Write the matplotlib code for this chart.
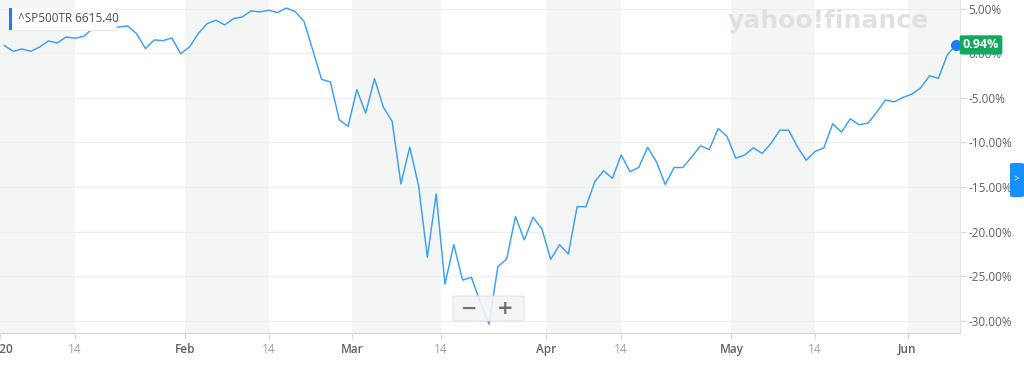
import numpy as np
import pandas as pd
import matplotlib
matplotlib.use("Agg")
import matplotlib.pyplot as plt
from matplotlib.patches import FancyBboxPatch, Rectangle

plt.rcParams["font.family"] = ["Open Sans", "DejaVu Sans"]

# trading days Jan 2 - Jun 8 2020 (NYSE holidays removed)
holidays = ["2020-01-20", "2020-02-17", "2020-04-10", "2020-05-25"]
days = pd.bdate_range("2020-01-02", "2020-06-08")
days = days[~days.isin(pd.to_datetime(holidays))]

# YTD change of ^SP500TR in %, one value per trading day
ytd_pct = [
    0.87, 0.22, 0.49, 0.22, 0.71, 1.39, 1.16, 1.83, 1.69, 1.91,
    2.75, 3.10, 2.85, 2.96, 3.07, 2.21, 0.53, 1.50, 1.42, 1.72,
    -0.04, 0.71, 2.21, 3.33, 3.71, 3.18, 3.89, 4.08, 4.76, 4.64,
    4.83, 4.57, 5.08, 4.68, 3.58, 0.34, -2.92, -3.22, -7.45, -8.20,
    -4.08, -6.71, -2.84, -6.03, -7.61, -14.64, -10.53, -14.83, -22.88, -15.76,
    -25.88, -21.46, -25.43, -25.13, -27.90, -30.37, -23.93, -23.07, -18.31, -20.93,
    -18.39, -19.70, -23.11, -21.46, -22.51, -17.19, -17.21, -14.40, -13.17, -14.02,
    -11.40, -13.28, -12.79, -10.54, -12.17, -14.71, -12.81, -12.81, -11.62, -10.38,
    -10.79, -8.43, -9.29, -11.76, -11.42, -10.60, -11.23, -10.11, -8.62, -8.62,
    -10.49, -11.99, -11.00, -10.61, -7.90, -8.84, -7.34, -8.01, -7.83, -6.60,
    -5.25, -5.44, -4.94, -4.57, -3.86, -2.51, -2.80, -0.19, 0.94,
]
ticker = "^SP500TR"
last_price = "6615.40"

month_starts = ["2020-01-01", "2020-02-01", "2020-03-01", "2020-04-01", "2020-05-01", "2020-06-01"]
month_labels = ["2020", "Feb", "Mar", "Apr", "May", "Jun"]
mid_days = ["2020-01-14", "2020-02-14", "2020-03-14", "2020-04-14", "2020-05-14"]
y_ticks = [5, 0, -5, -10, -15, -20, -25, -30]


def pos(d, boundary=False):
    d = pd.Timestamp(d)
    i = days.searchsorted(d)
    if boundary or d not in days:
        return i - 0.5
    return i


W, H = 1024, 374


def fx(px):
    return px / W


def fy(py):
    return 1 - py / H


x = np.arange(len(days))

fig = plt.figure(figsize=(W / 100, H / 100), dpi=100)
ax = fig.add_axes([0, fy(333.3), fx(960), 333.3 / H])

# alternating half-month shading
for i, m in enumerate(month_starts):
    start = pos(m, True)
    end = pos(mid_days[i]) if i < len(mid_days) else x[-1] + 2
    ax.axvspan(start, end, color="#f4f6f6", lw=0, zorder=0.2)

ax.yaxis.grid(True, color="#eceeef", lw=0.9, zorder=0.4)
ax.set_axisbelow(True)

ax.plot(x, ytd_pct, color="#3b9ff5", lw=1.05, zorder=3)
ax.plot(x[-1], ytd_pct[-1], "o", color="#1a7ff2", ms=7, zorder=4, clip_on=False)

ax.set_xlim(-0.43, 108.45)
ax.set_ylim(-31.4, 5.98)

# x ticks
ticks = [(pos(m, True), lab, True) for m, lab in zip(month_starts, month_labels)]
ticks += [(pos(d), "14", False) for d in mid_days]
ticks.sort()
ax.set_xticks([t[0] for t in ticks])
ax.set_xticklabels([t[1] for t in ticks])
for lbl, t in zip(ax.get_xticklabels(), ticks):
    if t[2]:
        lbl.set_color("#5b636a")
        lbl.set_fontweight("semibold")
    else:
        lbl.set_color("#9aa0a5")
ax.tick_params(axis="x", length=4, color="#d3d7da", pad=3, labelsize=8.5)

# y ticks on right
ax.yaxis.tick_right()
ax.set_yticks(y_ticks)
ax.set_yticklabels([f"{v:.2f}%" for v in y_ticks])
ax.tick_params(axis="y", length=4, color="#d3d7da", pad=2, labelsize=8.5,
               labelcolor="#5b636a")

for s in ["top", "left"]:
    ax.spines[s].set_visible(False)
ax.spines["bottom"].set_color("#d3d7da")
ax.spines["right"].set_color("#e3e6e8")

# last value badge
ax.annotate(f"{ytd_pct[-1]:.2f}%", xy=(x[-1], ytd_pct[-1]), xytext=(25, 0),
            textcoords="offset pixels", ha="center", va="center", color="white",
            fontsize=9, fontweight="bold", zorder=5, annotation_clip=False,
            bbox=dict(boxstyle="round,pad=0.25,rounding_size=0.15", fc="#13a85d", ec="none"))

# watermark
fig.text(fx(828), fy(21), "yahoo!finance", ha="center", va="center", fontsize=18,
         fontweight="bold", color="#dfe2e5", family="DejaVu Sans")

# ticker label box
fig.add_artist(FancyBboxPatch((fx(10), fy(31)), fx(107), 22 / H, boxstyle="square,pad=0",
                              fc="#e6e8ea", ec="none", transform=fig.transFigure, zorder=5))
fig.add_artist(FancyBboxPatch((fx(9), fy(30)), fx(107), 22 / H, boxstyle="square,pad=0",
                              fc="white", ec="none", transform=fig.transFigure, zorder=5))
fig.add_artist(Rectangle((fx(9), fy(30)), fx(3), 22 / H, fc="#1a7ff2", ec="none",
                         transform=fig.transFigure, zorder=6))
fig.text(fx(18), fy(19), f"{ticker} {last_price}", ha="left", va="center", fontsize=8.5,
         color="#464e56", zorder=7)

# zoom buttons
fig.add_artist(FancyBboxPatch((fx(453), fy(321)), fx(71), 25 / H,
                              boxstyle="round,pad=0,rounding_size=0.004",
                              fc="#f3f4f5", ec="#e0e3e5", lw=0.8, alpha=0.9,
                              transform=fig.transFigure, zorder=5))
fig.add_artist(Rectangle((fx(487.5), fy(319)), fx(0.8), 21 / H, fc="#e0e3e5", ec="none",
                         transform=fig.transFigure, zorder=6))
fig.text(fx(469), fy(308), "\u2212", ha="center", va="center", fontsize=14,
         fontweight="bold", color="#6b7278", family="DejaVu Sans", zorder=7)
fig.text(fx(505), fy(308), "+", ha="center", va="center", fontsize=14,
         fontweight="bold", color="#6b7278", family="DejaVu Sans", zorder=7)

# right side panel toggle
fig.add_artist(FancyBboxPatch((fx(1010), fy(197)), fx(14), 34 / H,
                              boxstyle="round,pad=0,rounding_size=0.003",
                              fc="#188fff", ec="none", transform=fig.transFigure, zorder=5))
fig.text(fx(1016), fy(180), ">", ha="center", va="center", fontsize=7,
         color="white", zorder=7)

fig.savefig("out.png", dpi=100)
